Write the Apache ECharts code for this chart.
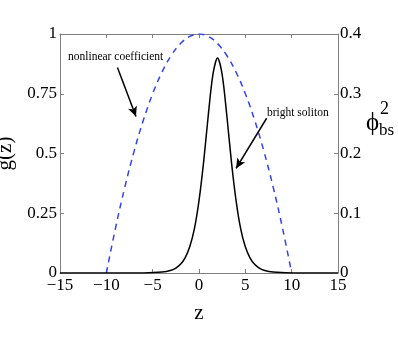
<!DOCTYPE html>
<html>
<head>
<meta charset="utf-8">
<script src="https://cdn.jsdelivr.net/npm/echarts@6/dist/echarts.min.js"></script>
<style>
  html, body { margin: 0; padding: 0; background: #fff; }
  #chart { width: 398px; height: 343px; }
</style>
</head>
<body>
<div id="chart"></div>
<script>
// nonlinear coefficient g(z) (left axis)
const gZ = [-10, -9, -8, -7, -6, -5, -4, -3, -2, -1, 0, 1, 2, 3, 4, 5, 6, 7, 8, 9, 10];
const gVal = [0, 0.19, 0.36, 0.51, 0.64, 0.75, 0.84, 0.91, 0.96, 0.99, 1, 0.99, 0.96, 0.91, 0.84, 0.75, 0.64, 0.51, 0.36, 0.19, 0];

// bright soliton phi_bs^2 (right axis)
const solZ = [-15, -6, -4, -3, -2.5, -2, -1.5, -1, -0.5, 0, 0.5, 1, 1.5, 2, 2.5, 3, 3.5, 4, 4.5, 5, 5.5, 6, 6.5, 7, 8, 10, 15];
const solVal = [0, 0.0002, 0.0015, 0.0047, 0.0083, 0.0146, 0.0254, 0.0438, 0.0737, 0.121, 0.186, 0.264, 0.332, 0.36, 0.332, 0.264, 0.186, 0.121, 0.0737, 0.0438, 0.0254, 0.0146, 0.0083, 0.0047, 0.0015, 0.0002, 0];

const xTicks = [-15, -10, -5, 0, 5, 10, 15];
const leftTicks = [0, 0.25, 0.5, 0.75, 1];
const rightTicks = [0, 0.1, 0.2, 0.3, 0.4];

const serif = '"Liberation Serif", "DejaVu Serif", serif';
const axisGray = '#808080';

const chart = echarts.init(document.getElementById('chart'));

const lineOpt = { show: true, onZero: false, lineStyle: { color: axisGray } };
const tickOpt = { show: true, inside: true, length: 4, lineStyle: { color: axisGray } };

const option = {
  animation: false,
  grid: { left: 60, top: 34, right: 60, bottom: 70, outerBoundsMode: 'none', containLabel: false },
  xAxis: [
    {
      type: 'value', min: xTicks[0], max: xTicks[xTicks.length - 1], interval: 5,
      name: 'z', nameLocation: 'middle', nameGap: 30,
      nameTextStyle: { fontFamily: serif, fontSize: 21, color: '#000' },
      axisLine: lineOpt,
      axisTick: tickOpt,
      axisLabel: { fontFamily: serif, fontSize: 17, color: '#000', margin: 4,
        formatter: v => String(v).replace('-', '\u2212') },
      splitLine: { show: false }
    },
    {
      type: 'value', min: xTicks[0], max: xTicks[xTicks.length - 1], interval: 5, position: 'top',
      axisLine: lineOpt,
      axisTick: tickOpt,
      axisLabel: { show: false },
      splitLine: { show: false }
    }
  ],
  yAxis: [
    {
      type: 'value', min: leftTicks[0], max: leftTicks[leftTicks.length - 1], interval: 0.25,
      name: 'g(z)', nameLocation: 'middle', nameGap: 37,
      nameTextStyle: { fontFamily: serif, fontSize: 21, color: '#000' },
      axisLine: lineOpt,
      axisTick: tickOpt,
      axisLabel: { fontFamily: serif, fontSize: 17, color: '#000', margin: 3 },
      splitLine: { show: false }
    },
    {
      type: 'value', min: rightTicks[0], max: rightTicks[rightTicks.length - 1], interval: 0.1, position: 'right',
      axisLine: lineOpt,
      axisTick: tickOpt,
      axisLabel: { fontFamily: serif, fontSize: 17, color: '#000', margin: 2 },
      splitLine: { show: false }
    }
  ],
  series: [
    {
      name: 'nonlinear coefficient',
      type: 'line',
      xAxisIndex: 0, yAxisIndex: 0,
      data: gZ.map((z, i) => [z, gVal[i]]),
      smooth: 0.4,
      showSymbol: false,
      lineStyle: { color: '#3344ee', width: 1.5, type: [6, 5] },
      markLine: {
        silent: true,
        symbol: ['none', 'arrow'],
        symbolSize: [7, 10],
        label: { show: false },
        lineStyle: { color: '#000', width: 1.5, type: 'solid' },
        data: [[{ coord: [-8.8, 0.86] }, { coord: [-6.8, 0.655] }]]
      }
    },
    {
      name: 'bright soliton',
      type: 'line',
      xAxisIndex: 0, yAxisIndex: 1,
      data: solZ.map((z, i) => [z, solVal[i]]),
      smooth: 0.3,
      showSymbol: false,
      lineStyle: { color: '#000', width: 1.5 },
      markLine: {
        silent: true,
        symbol: ['none', 'arrow'],
        symbolSize: [7, 10],
        label: { show: false },
        lineStyle: { color: '#000', width: 1.5, type: 'solid' },
        data: [[{ coord: [7.3, 0.259] }, { coord: [4.0, 0.175] }]]
      }
    }
  ],
  graphic: [
    { type: 'text', left: 68, top: 51,
      style: { text: 'nonlinear coefficient', fontFamily: serif, fontSize: 11.5, fill: '#000' } },
    { type: 'text', left: 267, top: 107,
      style: { text: 'bright soliton', fontFamily: serif, fontSize: 11.5, fill: '#000' } },
    { type: 'text', x: 366, y: 123,
      style: { text: '\u03d5', fontFamily: serif, fontSize: 25, fill: '#000', verticalAlign: 'middle' } },
    { type: 'text', x: 380, y: 109,
      style: { text: '2', fontFamily: serif, fontSize: 18, fill: '#000', verticalAlign: 'middle' } },
    { type: 'text', x: 379, y: 131,
      style: { text: 'bs', fontFamily: serif, fontSize: 17, fill: '#000', verticalAlign: 'middle' } }
  ]
};
chart.setOption(option);
</script>
</body>
</html>
